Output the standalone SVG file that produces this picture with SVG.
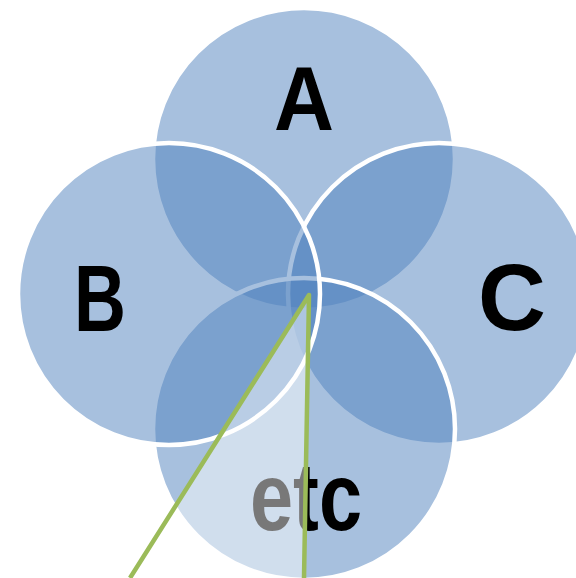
<svg xmlns="http://www.w3.org/2000/svg" width="576" height="578" viewBox="0 0 576 578">
<style>
.c{fill:#4F81BD;fill-opacity:0.5;stroke:#FFFFFF;stroke-width:4.5}
.t{font-family:"Liberation Sans",Arial,sans-serif;font-weight:bold;fill:#000000;text-anchor:middle}
</style>
<rect width="576" height="578" fill="#FFFFFF"/>
<g id="nodeA"><circle class="c" cx="304" cy="159" r="151"/></g>
<g id="nodeC"><circle class="c" cx="439" cy="294" r="151"/></g>
<g id="nodeEtc"><circle class="c" cx="304" cy="429" r="151"/></g>
<g id="nodeB"><circle class="c" cx="169" cy="294" r="151"/></g>
<g id="labels">
<text class="t" x="304" y="130" font-size="91" textLength="60" lengthAdjust="spacingAndGlyphs">A</text>
<text class="t" x="100" y="331" font-size="94" textLength="52" lengthAdjust="spacingAndGlyphs">B</text>
<text class="t" x="512" y="330" font-size="94">C</text>
<text class="t" x="306" y="530" font-size="96" textLength="112" lengthAdjust="spacingAndGlyphs">etc</text>
</g>
<g id="connectors">
<polygon points="309,295 120,594 304,594" fill="#FFFFFF" fill-opacity="0.47" stroke="none"/>
<polyline points="130,578 309,295 304,578" fill="none" stroke="#9BBB59" stroke-width="4.5" stroke-linejoin="round"/>
</g>
</svg>
